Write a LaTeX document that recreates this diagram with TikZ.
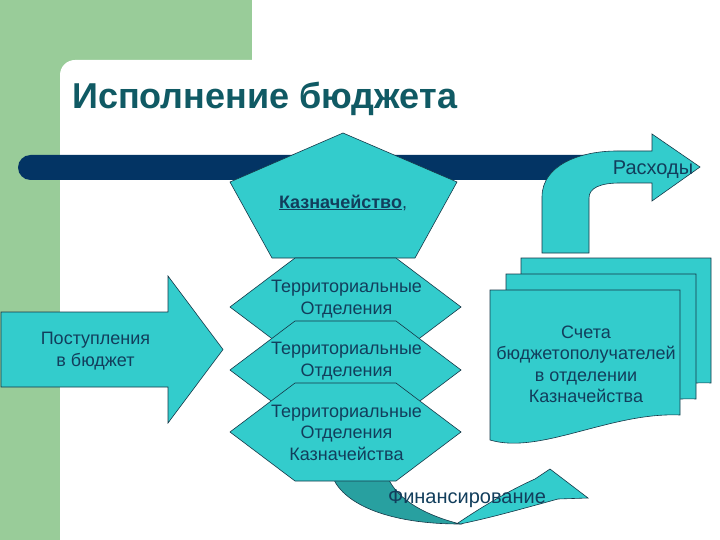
\documentclass[tikz,border=0pt]{standalone}
\usepackage{fontspec}
\setmainfont{Liberation Sans}
\definecolor{bggreen}{RGB}{153,204,153}
\definecolor{barnavy}{RGB}{3,52,100}
\definecolor{tealfill}{RGB}{51,204,204}
\definecolor{tealdark}{RGB}{40,160,160}
\definecolor{outl}{RGB}{22,56,72}
\definecolor{titlecol}{RGB}{16,90,100}
\definecolor{txtcol}{RGB}{18,62,92}
\tikzset{
  shp/.style={fill=tealfill, draw=outl, line width=0.6pt, line join=miter},
  lbl/.style={text=txtcol, inner sep=0pt, align=center, font=\fontsize{18}{21.5}\selectfont},
  biglbl/.style={lbl, font=\fontsize{20}{24}\selectfont},
}
\begin{document}
\begin{tikzpicture}[x=1pt,y=-1pt]
\useasboundingbox (0,0) rectangle (720,540);
% background
\fill[white] (0,0) rectangle (720,540);
\fill[bggreen] (0,0) rectangle (252,60);
\fill[bggreen] (0,0) rectangle (60,540);
\fill[bggreen] (0,0) rectangle (75,75);
\fill[white, rounded corners=15pt] (60,60) rectangle (760,580);
% title
\node[anchor=base west, inner sep=0pt, text=titlecol, font=\bfseries\fontsize{36}{40}\selectfont] (title) at (72,109) {Исполнение бюджета};
% navy bar
\fill[barnavy, rounded corners=12.5pt] (18,155) rectangle (600,180);
% pentagon
\path[shp] (343,133) -- (457,182) -- (415,258) -- (272,258) -- (230,182) -- cycle;
% expenses arrow
\path[shp] (542,253) -- (542,197) .. controls (542,165) and (580,151) .. (617,151) -- (652,151) -- (652,134) -- (700,167) -- (652,201) -- (652,183) -- (620,183) .. controls (600,183) and (589,188) .. (589,198) -- (589,253) -- cycle;
% income arrow
\path[shp] (1,312) -- (168,312) -- (168,276) -- (223,349.5) -- (168,423) -- (168,387) -- (1,387) -- cycle;
% financing arrow
\path[fill=tealdark, draw=outl, line width=0.6pt] (333,470) -- (333,478) .. controls (345,505) and (390,524) .. (460,524) .. controls (425,515) and (398,500) .. (388,478) -- (388,470) -- cycle;
\path[shp] (460,524) .. controls (490,518) and (525,508) .. (558,499) -- (588,498) -- (550,469) -- (535,479) .. controls (510,490) and (480,508) .. (458,523) -- cycle;
% hexagons
\foreach \cy in {307,370,432} {
  \path[shp, shift={(345.5,\cy)}] (-115.5,0) -- (-50.5,-49) -- (50.5,-49) -- (115.5,0) -- (50.5,49) -- (-50.5,49) -- cycle;
}
% documents
\foreach \dx/\dy in {31/-32,16/-16,0/0} {
  \path[shp, shift={(490+\dx,290+\dy)}] (0,0) -- (190,0) -- (190,125) .. controls (120,122) and (50,165) .. (0,150) -- cycle;
}
% texts
\node[anchor=base, inner sep=0pt, text=txtcol, font=\fontsize{18}{21.5}\selectfont] (kazn) at (343,208) {\underline{\textbf{Казначейство}},};
\node[lbl, anchor=base] (t1) at (346.5,314) {Территориальные\\Отделения};
\node[lbl, anchor=base] (t2) at (346.5,376) {Территориальные\\Отделения};
\node[lbl, anchor=base] (t3) at (346.5,460) {Территориальные\\Отделения\\Казначейства};
\node[lbl, anchor=base] (post) at (95.5,366) {Поступления\\в бюджет};
\node[lbl, anchor=base] (sch) at (586,402.5) {Счета\\бюджетополучателей\\в отделении\\Казначейства};
\node[biglbl, anchor=base] (rash) at (653,175) {Расходы};
\node[biglbl, anchor=base] (fin) at (467,503) {Финансирование};
\end{tikzpicture}
\end{document}
